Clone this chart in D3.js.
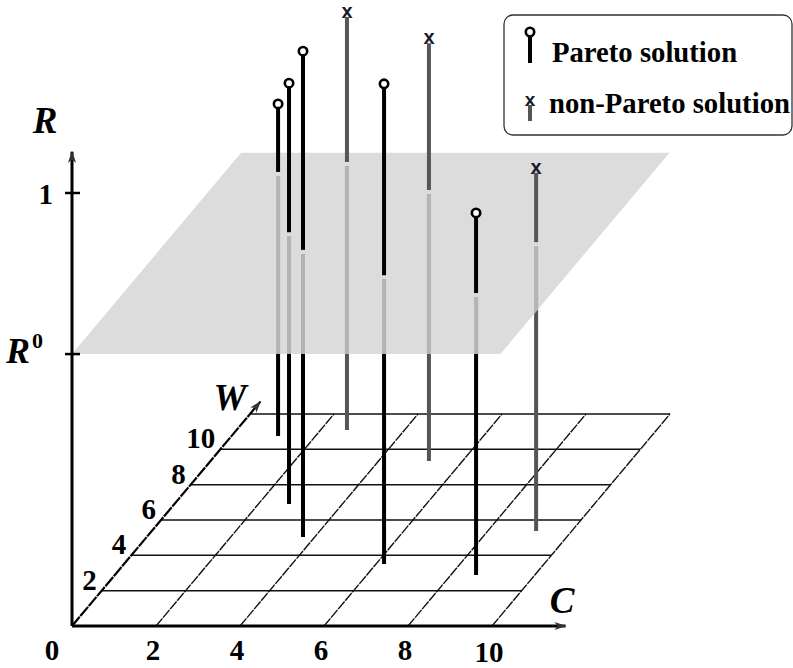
<!DOCTYPE html>
<html lang="en">
<head>
<meta charset="UTF-8">
<script src="https://cdn.jsdelivr.net/npm/d3@7"></script>
<title>Pareto solutions</title>
<style>
    body { margin: 0; background: white; }
    svg { display: block; }
    .serif { font-family: 'Liberation Serif', 'Times New Roman', serif; font-weight: bold; }
</style>
</head>
<body>
<div id="chart"></div>
<script>
    // ticks and grid
    const cTicks = [0, 2, 4, 6, 8, 10];
    const wTicks = [2, 4, 6, 8, 10];
    const gridC = [2, 4, 6, 8, 10];
    const gridW = [2, 4, 6, 8, 10, 12];
    const R0 = 0.628;

    // solutions
    const solC = [1.11, 2.73, 3.72, 2.63, 6.19, 5.20, 8.60, 9.15];
    const solW = [10.75, 6.90, 5.04, 11.09, 3.51, 9.34, 2.89, 5.38];
    const solR = [0.767, 0.972, 1.122, 0.954, 1.109, 0.965, 0.836, 0.827];
    const solCut = [0.610, 0.628, 0.663, 0.619, 0.667, 0.626, 0.651, 0.667];
    const solPareto = [true, true, true, false, true, false, true, false];

    const width = 793, height = 668;
    const svg = d3.select("#chart").append("svg")
        .attr("width", width)
        .attr("height", height);

    // oblique projection: C goes right, W goes up-right, R goes up
    const y0 = 626;
    const cScale = d3.scaleLinear().domain([0, 10]).range([72, 492]);
    const wScaleX = d3.scaleLinear().domain([0, 12]).range([0, 178]);
    const wScaleY = d3.scaleLinear().domain([0, 12]).range([0, -212]);
    const rScale = d3.scaleLinear().domain([0, 1]).range([0, -433]);
    const proj = (c, w, r) => [cScale(c) + wScaleX(w), y0 + wScaleY(w) + rScale(r)];

    const defs = svg.append("defs");
    defs.append("marker")
        .attr("id", "arrow")
        .attr("markerUnits", "userSpaceOnUse")
        .attr("viewBox", "0 -5 12 10")
        .attr("refX", 11).attr("refY", 0)
        .attr("markerWidth", 13).attr("markerHeight", 10)
        .attr("orient", "auto")
        .append("path")
        .attr("d", "M0,-4L12,0L0,4L3,0Z")
        .attr("fill", "#333");

    const line = d3.line();

    // grid on the C-W floor
    const grid = svg.append("g");
    grid.selectAll(".hline")
        .data(gridW)
        .join("path")
        .attr("d", w => line([proj(0, w, 0), proj(10, w, 0)]))
        .attr("stroke", "#111")
        .attr("stroke-width", 1.5)
        .attr("fill", "none");
    grid.selectAll(".dline")
        .data(gridC)
        .join("path")
        .attr("d", c => line([proj(c, 0, 0), proj(c, 12, 0)]))
        .attr("stroke", "#111")
        .attr("stroke-width", 1.4)
        .attr("stroke-dasharray", "10 1")
        .attr("fill", "none");

    // the R0 plane
    const planeCorners = [[0, 0], [10.2, 0], [10.2, 11.4], [0, 11.4]].map(d => proj(d[0], d[1], R0));
    svg.append("path")
        .attr("d", line(planeCorners) + "Z")
        .attr("fill", "#dcdcdc");
    defs.append("clipPath")
        .attr("id", "planeClip")
        .append("path")
        .attr("d", line(planeCorners) + "Z");

    // axes
    const axes = svg.append("g");
    axes.append("path")
        .attr("d", line([proj(0, 0, 0), proj(11.75, 0, 0)]))
        .attr("stroke", "#000").attr("stroke-width", 3)
        .attr("marker-end", "url(#arrow)");
    axes.append("path")
        .attr("d", line([proj(0, 0, 0), proj(0, 12.7, 0)]))
        .attr("stroke", "#000").attr("stroke-width", 2.2)
        .attr("stroke-dasharray", "12 1")
        .attr("marker-end", "url(#arrow)");
    axes.append("path")
        .attr("d", line([proj(0, 0, 0), proj(0, 0, 1.095)]))
        .attr("stroke", "#000").attr("stroke-width", 3)
        .attr("marker-end", "url(#arrow)");
    axes.selectAll(".rtick")
        .data([R0, 1])
        .join("path")
        .attr("d", r => {
            const p = proj(0, 0, r);
            return line([[p[0] - 7, p[1]], [p[0] + 8, p[1]]]);
        })
        .attr("stroke", "#000").attr("stroke-width", 2.5);

    // stems
    const stems = svg.append("g");
    const dark = i => solPareto[i] ? "#000" : "#555";
    solC.forEach((c, i) => {
        const base = proj(c, solW[i], 0);
        const cut = proj(c, solW[i], solCut[i]);
        const top = proj(c, solW[i], solR[i]);
        const sw = 4;
        // part below the plane: dark outside it, light where seen through it
        stems.append("path")
            .attr("d", line([base, [cut[0], cut[1] + 4]]))
            .attr("stroke", dark(i)).attr("stroke-width", sw);
        stems.append("path")
            .attr("clip-path", "url(#planeClip)")
            .attr("d", line([base, [cut[0], cut[1] + 4]]))
            .attr("stroke", "#dcdcdc").attr("stroke-width", sw + 1);
        stems.append("path")
            .attr("clip-path", "url(#planeClip)")
            .attr("d", line([[base[0], base[1]], [cut[0], cut[1] + 4]]))
            .attr("stroke", "#b4b4b4").attr("stroke-width", sw);
        // part above the plane
        stems.append("path")
            .attr("d", line([cut, solPareto[i] ? [top[0], top[1] + 4] : top]))
            .attr("stroke", dark(i)).attr("stroke-width", sw);
        if (solPareto[i]) {
            stems.append("circle")
                .attr("cx", top[0]).attr("cy", top[1])
                .attr("r", 4.2)
                .attr("fill", "white")
                .attr("stroke", "#000").attr("stroke-width", 2.6);
        } else {
            stems.append("text")
                .attr("x", top[0]).attr("y", top[1] + 1)
                .attr("text-anchor", "middle")
                .style("font-family", "'Liberation Sans', Arial, sans-serif")
                .style("font-weight", "bold")
                .style("font-size", "20px")
                .attr("fill", "#1a1a2a")
                .text("x");
        }
    });

    // tick labels
    const labels = svg.append("g").attr("class", "serif").style("font-size", "29px");
    labels.selectAll(".clab")
        .data(cTicks)
        .join("text")
        .attr("x", c => c === 0 ? cScale(c) - 20 : cScale(c) - 3)
        .attr("y", c => c === 10 ? y0 + 36 : y0 + 34)
        .attr("text-anchor", "middle")
        .text(c => c);
    labels.selectAll(".wlab")
        .data(wTicks)
        .join("text")
        .attr("x", w => proj(0, w, 0)[0] - 5)
        .attr("y", w => proj(0, w, 0)[1] - 1)
        .attr("text-anchor", "end")
        .text(w => w);
    labels.append("text")
        .attr("x", 53).attr("y", proj(0, 0, 1)[1] + 11)
        .attr("text-anchor", "end")
        .text("1");

    // axis names
    const names = svg.append("g").attr("class", "serif").style("font-style", "italic").style("font-size", "37px");
    names.append("text").attr("x", 45).attr("y", 133).attr("text-anchor", "middle").text("R");
    names.append("text").attr("x", 230).attr("y", 410).attr("text-anchor", "middle").text("W");
    names.append("text").attr("x", 562).attr("y", 613).attr("text-anchor", "middle").text("C");
    const r0 = names.append("text").attr("x", 6).attr("y", proj(0, 0, R0)[1] + 9).style("font-size", "36px");
    r0.append("tspan").text("R");
    r0.append("tspan").attr("dx", 2).attr("dy", -15).style("font-style", "normal").style("font-size", "22px").text("0");

    // legend
    const legend = svg.append("g");
    legend.append("rect")
        .attr("x", 504).attr("y", 15)
        .attr("width", 288).attr("height", 120)
        .attr("rx", 9)
        .attr("fill", "white")
        .attr("stroke", "#333").attr("stroke-width", 1.3);
    legend.append("path").attr("d", line([[530, 37], [530, 63]]))
        .attr("stroke", "#000").attr("stroke-width", 4);
    legend.append("circle").attr("cx", 530).attr("cy", 32).attr("r", 4.2)
        .attr("fill", "white").attr("stroke", "#000").attr("stroke-width", 2.6);
    legend.append("path").attr("d", line([[530, 105], [530, 121]]))
        .attr("stroke", "#555").attr("stroke-width", 4);
    legend.append("text").attr("x", 530).attr("y", 106)
        .attr("text-anchor", "middle")
        .style("font-family", "'Liberation Sans', Arial, sans-serif")
        .style("font-weight", "bold").style("font-size", "19px")
        .attr("fill", "#1a1a2a").text("x");
    legend.append("text").attr("class", "serif").style("font-size", "28.7px")
        .attr("x", 552).attr("y", 62).text("Pareto solution");
    legend.append("text").attr("class", "serif").style("font-size", "28.7px")
        .attr("x", 549).attr("y", 113).text("non-Pareto solution");
</script>
</body>
</html>
